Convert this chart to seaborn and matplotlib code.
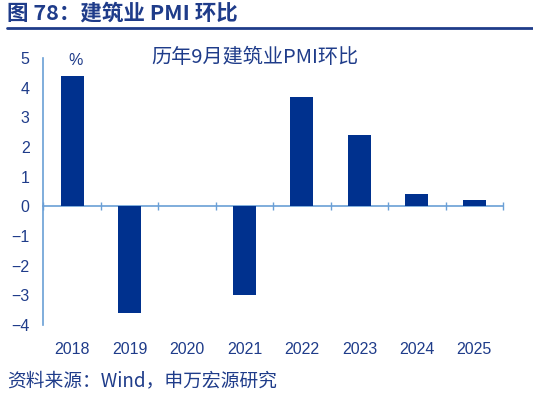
import pandas as pd
import seaborn as sns
import matplotlib.pyplot as plt

# dati: PMI costruzioni, variazione di settembre
years = ["2018", "2019", "2020", "2021", "2022", "2023", "2024", "2025"]
values = [4.4, -3.6, 0.0, -3.0, 3.7, 2.4, 0.4, 0.2]

df = pd.DataFrame({"year": years, "value": values})

sns.set_style("white")
plt.rcParams["font.family"] = ["Liberation Sans", "Noto Sans CJK SC", "DejaVu Sans"]

text_col = "#1F3C8A"
axis_col = "#6A9FD6"
bar_col = "#00318E"
cjk = ["Noto Sans CJK SC", "DejaVu Sans"]

fig = plt.figure(figsize=(5.33, 3.98), dpi=100)
ax = fig.add_axes([0.0816, 0.1834, 0.8621, 0.6709])

sns.barplot(data=df, x="year", y="value", color=bar_col, width=0.4,
            saturation=1, linewidth=0, ax=ax)

ax.set_ylim(-4, 5)
ax.set_xlim(-0.5, 7.5)
ax.set_yticks(range(-4, 6))
ax.set_xlabel("")
ax.set_ylabel("")

for s in ["top", "right", "bottom"]:
    ax.spines[s].set_visible(False)
ax.spines["left"].set_color(axis_col)
ax.spines["left"].set_linewidth(1.2)

ax.tick_params(axis="y", direction="out", length=4, color=axis_col,
               labelcolor=text_col, labelsize=11.5, pad=6)
ax.tick_params(axis="x", length=0, labelcolor=text_col, labelsize=11.5, pad=12)

# asse dello zero con tacche ai confini delle categorie
sec = ax.secondary_xaxis(4 / 9)
sec.set_xticks([i - 0.5 for i in range(len(years) + 1)])
sec.set_xticklabels([])
sec.tick_params(direction="inout", length=6, color=axis_col, width=1)
sec.spines["bottom"].set_color(axis_col)
sec.spines["bottom"].set_linewidth(1.2)

ax.text(0.06, 4.65, "%", color=text_col, fontsize=11.5, ha="center", va="bottom")
ax.text(0.46, 1.0, "历年9月建筑业PMI环比", transform=ax.transAxes,
        color=text_col, fontsize=14.5, ha="center", va="center", family=cjk)

fig.text(0.013, 0.967, "图 78：建筑业 PMI 环比", color=text_col, fontsize=15.5,
         fontweight="bold", ha="left", va="center", family=cjk)
fig.add_artist(plt.Line2D([0.013, 1.0], [0.93, 0.93], color=text_col,
                          linewidth=2, transform=fig.transFigure))
fig.text(0.013, 0.043, "资料来源：Wind，申万宏源研究", color=text_col, fontsize=13.5,
         ha="left", va="center", family=cjk)

fig.savefig("out.png", dpi=100)
